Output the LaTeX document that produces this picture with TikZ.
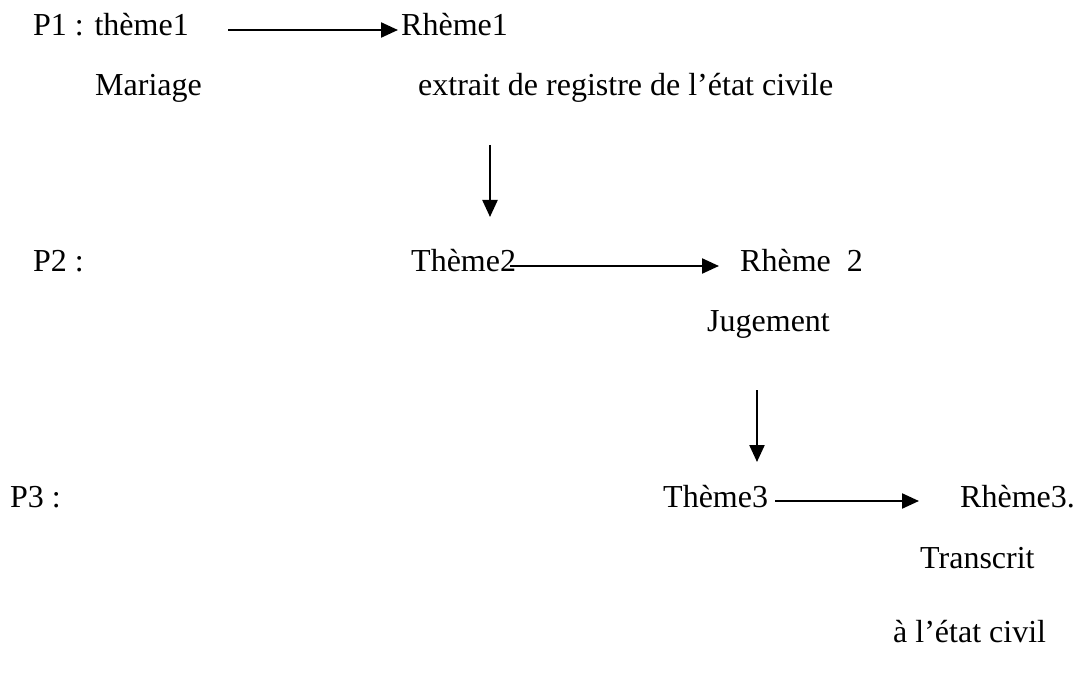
\documentclass[tikz,border=0pt]{standalone}
\usepackage{fontspec}
\setmainfont{Liberation Serif}
\usetikzlibrary{arrows.meta,calc}
\begin{document}
\begin{tikzpicture}[x=1pt,y=-1pt,
  txt/.style={anchor=base west,inner sep=0pt,font=\fontsize{32}{38}\selectfont},
  arr/.style={line width=2.3pt,-{Triangle[length=17pt,width=15pt]}}]
\useasboundingbox[fill=white] (0,0) rectangle (1080,695);
\node[txt] (p1) at (33,36) {P1 : thème1};
\node[txt] (rh1) at (401,36) {Rhème1};
\node[txt] (mar) at (95,96) {Mariage};
\node[txt] (ext) at (418,96) {extrait de registre de l’état civile};
\node[txt] (p2) at (33,272) {P2 :};
\node[txt] (th2) at (411,272) {Thème2};
\node[txt] (rh2) at (740,272) {Rhème\ \ 2};
\node[txt] (jug) at (707,332) {Jugement};
\node[txt] (p3) at (10,507) {P3 :};
\node[txt] (th3) at (663,507) {Thème3};
\node[txt] (rh3) at (960,507) {Rhème3.};
\node[txt] (tra) at (920,568) {Transcrit};
\node[txt] (eta) at (893,642) {à l’état civil};
\coordinate (a1s) at (228,30);
\coordinate (a1e) at (398,30);
\draw[arr] (a1s) -- (a1e);
\coordinate (d1s) at (490,145);
\coordinate (d1e) at (490,217);
\draw[arr] (d1s) -- (d1e);
\coordinate (a2s) at (510,266);
\coordinate (a2e) at (719,266);
\draw[arr] (a2s) -- (a2e);
\coordinate (d2s) at (757,390);
\coordinate (d2e) at (757,462);
\draw[arr] (d2s) -- (d2e);
\coordinate (a3s) at (775,501);
\coordinate (a3e) at (919,501);
\draw[arr] (a3s) -- (a3e);
\end{tikzpicture}
\end{document}
